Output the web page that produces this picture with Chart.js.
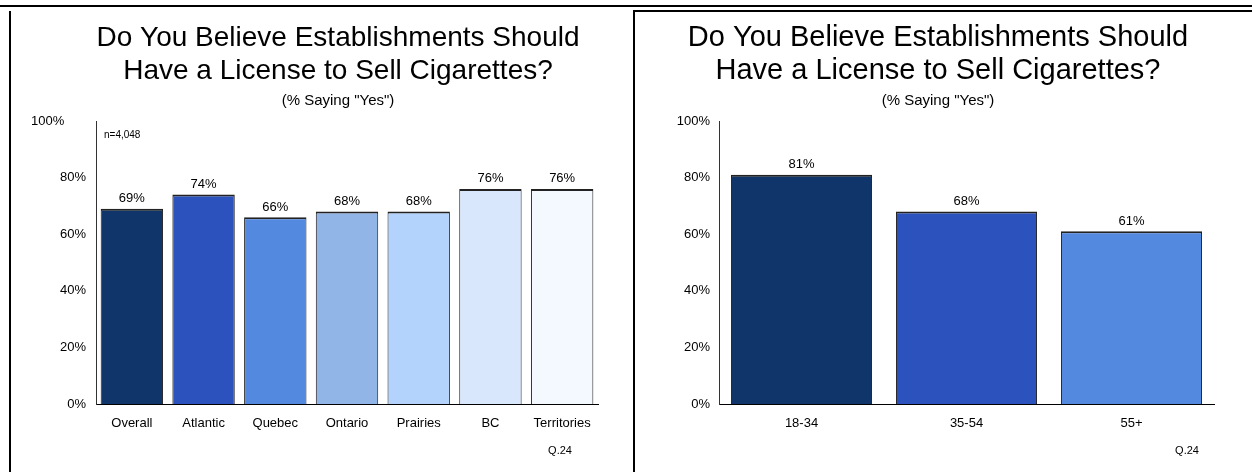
<!DOCTYPE html>
<html>
<head>
<meta charset="utf-8">
<script src="https://cdn.jsdelivr.net/npm/chart.js@4.4.0/dist/chart.umd.min.js"></script>
<style>
body { margin: 0; width: 1252px; height: 472px; position: relative; overflow: hidden; background: #fff; }
.line { position: absolute; background: #000; }
.panel { position: absolute; }
</style>
</head>
<body>
<div class="line" style="left:0;top:5px;width:1252px;height:2px"></div>
<div class="line" style="left:9px;top:11px;width:2px;height:461px"></div>
<div class="line" style="left:633px;top:10px;width:619px;height:2px"></div>
<div class="line" style="left:633px;top:10px;width:2px;height:462px"></div>
<div class="panel" style="left:12px;top:12px"><canvas id="regionChart" width="620" height="460"></canvas></div>
<div class="panel" style="left:636px;top:12px"><canvas id="ageChart" width="616" height="460"></canvas></div>
<script>
// chart data
const titleLines = ['Do You Believe Establishments Should', 'Have a License to Sell Cigarettes?'];
const subTitle = '(% Saying "Yes")';
const questionNote = 'Q.24';
const sampleNote = 'n=4,048';

const regionLabels = ['Overall', 'Atlantic', 'Quebec', 'Ontario', 'Prairies', 'BC', 'Territories'];
const regionValues = [69, 74, 66, 68, 68, 76, 76];
const regionColors = ['#10356A', '#2C52BE', '#5489E0', '#92B5E8', '#B3D3FC', '#D9E7FD', '#F4F8FF'];

const ageLabels = ['18-34', '35-54', '55+'];
const ageValues = [81, 68, 61];
const ageColors = ['#10356A', '#2C52BE', '#5489E0'];

const FONT = '"Liberation Sans", Arial, sans-serif';

// titles, value labels and notes drawn on the canvas
const textLayer = {
    id: 'textLayer',
    afterDatasetsDraw(chart, args, opts) {
        const ctx = chart.ctx;
        const area = chart.chartArea;
        ctx.save();
        ctx.fillStyle = '#000';
        ctx.textBaseline = 'middle';
        ctx.textAlign = 'center';

        ctx.font = opts.titleSize + 'px ' + FONT;
        ctx.fillText(titleLines[0], opts.titleX, 26);
        ctx.fillText(titleLines[1], opts.titleX, 59);
        ctx.font = '15px ' + FONT;
        ctx.fillText(subTitle, opts.titleX, 89);

        // value labels above the bars
        ctx.font = '13px ' + FONT;
        const values = chart.data.datasets[0].data;
        chart.getDatasetMeta(0).data.forEach((bar, i) => {
            ctx.fillText(values[i] + '%', bar.x, bar.y - 10);
        });

        ctx.font = '11px ' + FONT;
        ctx.fillText(questionNote, opts.noteX, area.bottom + 47);

        if (opts.showSample) {
            ctx.textAlign = 'left';
            ctx.font = '10px ' + FONT;
            ctx.fillText(sampleNote, area.left + 8, area.top + 14);
        }
        ctx.restore();
    }
};

function createChart(canvasId, labels, values, colors, cfg) {
    const ctx = document.getElementById(canvasId).getContext('2d');
    new Chart(ctx, {
        type: 'bar',
        data: {
            labels: labels,
            datasets: [{
                data: values,
                backgroundColor: colors,
                borderColor: '#222',
                borderWidth: { top: 2, left: 1, right: 1, bottom: 0 },
                borderSkipped: false,
                categoryPercentage: cfg.catPct,
                barPercentage: 1
            }]
        },
        options: {
            responsive: false,
            animation: false,
            layout: { padding: { top: 109, bottom: 38, left: 0, right: cfg.padRight } },
            plugins: {
                legend: { display: false },
                title: { display: false },
                tooltip: { enabled: false },
                textLayer: { titleX: cfg.titleX, titleSize: cfg.titleSize, noteX: cfg.noteX, showSample: cfg.showSample }
            },
            scales: {
                x: {
                    grid: { display: false, drawTicks: false },
                    border: { display: true, color: '#000', width: 1 },
                    ticks: { color: '#000', font: { family: FONT, size: 13 }, padding: 12, maxRotation: 0, autoSkip: false },
                    afterFit: scale => { scale.height = 30; }
                },
                y: {
                    min: 0,
                    max: 100,
                    grid: { display: false, drawTicks: false },
                    border: { display: true, color: '#333', width: 1 },
                    ticks: {
                        stepSize: 20, color: '#000', font: { family: FONT, size: 13 }, padding: cfg.tickPad,
                        // the top label sits further left in the original
                        callback: v => v + '%' + (v === 100 ? cfg.topShift : '')
                    },
                    afterFit: scale => { scale.width = cfg.yWidth; }
                }
            }
        },
        plugins: [textLayer]
    });
}

createChart('regionChart', regionLabels, regionValues, regionColors,
    { catPct: 0.87, padRight: 34, yWidth: 84, tickPad: 10, titleX: 326, titleSize: 28, noteX: 548, topShift: '      ', showSample: true });
createChart('ageChart', ageLabels, ageValues, ageColors,
    { catPct: 0.855, padRight: 38, yWidth: 83, tickPad: 9, titleX: 302, titleSize: 29, noteX: 551, topShift: '', showSample: false });
</script>
</body>
</html>
